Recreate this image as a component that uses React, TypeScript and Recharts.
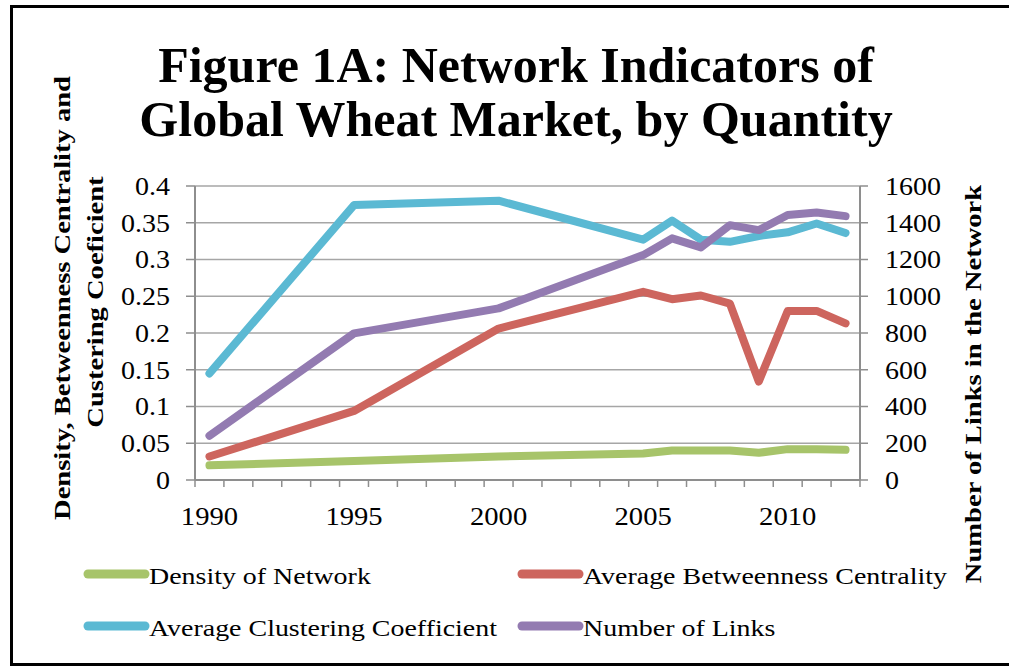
import { LineChart, Line, XAxis, YAxis, CartesianGrid } from "recharts";

// values
const years = [1990, 1995, 2000, 2005, 2006, 2007, 2008, 2009, 2010, 2011, 2012];
const density = [0.02, 0.026, 0.032, 0.036, 0.04, 0.04, 0.04, 0.037, 0.042, 0.042, 0.041];
const betweenness = [0.032, 0.094, 0.206, 0.256, 0.246, 0.251, 0.24, 0.134, 0.23, 0.23, 0.213];
const clustering = [0.145, 0.374, 0.38, 0.327, 0.353, 0.327, 0.324, 0.332, 0.337, 0.349, 0.336];
const links = [241, 798, 934, 1224, 1315, 1266, 1387, 1360, 1442, 1456, 1436];

const leftTicks = [0, 0.05, 0.1, 0.15, 0.2, 0.25, 0.3, 0.35, 0.4];
const rightTicks = [0, 200, 400, 600, 800, 1000, 1200, 1400, 1600];
const yearLabels = [1990, 1995, 2000, 2005, 2010];
const yearBounds = Array.from({ length: 24 }, (_, i) => 1989.5 + i);

const series = [
  { key: "density", name: "Density of Network", color: "#a7c46a", axis: "left" },
  { key: "betweenness", name: "Average Betweenness Centrality", color: "#cd655e", axis: "left" },
  { key: "clustering", name: "Average Clustering Coefficient", color: "#5bb9d3", axis: "left" },
  { key: "links", name: "Number of Links", color: "#937bb1", axis: "right" },
];

const data = years.map((year, i) => ({
  year,
  density: density[i],
  betweenness: betweenness[i],
  clustering: clustering[i],
  links: links[i],
}));

// the original uses Cambria, which is wider than Liberation Serif -> stretch a bit
const FONT = "'Liberation Serif', 'Times New Roman', serif";
const WIDE = 1.215;
const GRID = "#a6a6a6";
const AXIS = "#8e8e8e";

const XTick = ({ x, y, payload }: any) => {
  const v = payload.value;
  if (v % 1 !== 0) {
    return <line x1={x} x2={x} y1={y} y2={y + 7} stroke={AXIS} strokeWidth={1.5} />;
  }
  return (
    <text
      transform={`translate(${x} ${y + 45}) scale(1.1 1)`}
      textAnchor="middle"
      fontSize={26}
      fontFamily={FONT}
      fill="#000"
    >
      {v}
    </text>
  );
};

const YTick = ({ x, y, payload, textAnchor }: any) => (
  <text
    transform={`translate(${x} ${y}) scale(1.12 1)`}
    dy="0.35em"
    textAnchor={textAnchor}
    fontSize={25}
    fontFamily={FONT}
    fill="#000"
  >
    {payload.value}
  </text>
);

const AxisTitle = ({ x, y, rot, children }: any) => (
  <text
    transform={`translate(${x} ${y}) rotate(${rot}) scale(1.19 1)`}
    textAnchor="middle"
    fontSize={24}
    fontWeight="bold"
    fontFamily={FONT}
    fill="#000"
  >
    {children}
  </text>
);

export default function App() {
  const legendPos = [
    { x: 88, y: 576 },
    { x: 522, y: 576 },
    { x: 88, y: 628 },
    { x: 522, y: 628 },
  ];

  return (
    <div style={{ position: "absolute", left: 0, top: 0, width: 1009, height: 667, background: "#fff", overflow: "hidden" }}>
      <LineChart
        width={1009}
        height={667}
        data={data}
        margin={{ top: 186, left: 125, right: 79, bottom: 147 }}
      >
        <CartesianGrid vertical={false} stroke={GRID} strokeWidth={1.5} yAxisId="left" />
        <XAxis
          dataKey="year"
          type="number"
          domain={[1989.5, 2012.5]}
          ticks={[...yearBounds, ...yearLabels].sort((a, b) => a - b)}
          interval={0}
          tickLine={false}
          tickSize={0}
          tickMargin={0}
          tick={<XTick />}
          axisLine={{ stroke: AXIS, strokeWidth: 2 }}
          height={40}
        />
        <YAxis
          yAxisId="left"
          domain={[0, 0.4]}
          ticks={leftTicks}
          interval={0}
          width={70}
          tickSize={9}
          tickMargin={16}
          tickLine={{ stroke: AXIS, strokeWidth: 1.5 }}
          axisLine={{ stroke: AXIS, strokeWidth: 2 }}
          tick={<YTick />}
        />
        <YAxis
          yAxisId="right"
          orientation="right"
          domain={[0, 1600]}
          ticks={rightTicks}
          interval={0}
          width={70}
          tickSize={8}
          tickMargin={17}
          tickLine={{ stroke: AXIS, strokeWidth: 1.5 }}
          axisLine={{ stroke: AXIS, strokeWidth: 2 }}
          tick={<YTick />}
        />
        {series.map((s) => (
          <Line
            key={s.key}
            yAxisId={s.axis}
            type="linear"
            dataKey={s.key}
            name={s.name}
            stroke={s.color}
            strokeWidth={8}
            strokeLinecap="round"
            strokeLinejoin="round"
            dot={false}
            activeDot={false}
            isAnimationActive={false}
          />
        ))}
      </LineChart>
      <svg
        width={1009}
        height={667}
        style={{ position: "absolute", left: 0, top: 0, pointerEvents: "none" }}
      >
        <rect x={11.5} y={6.5} width={1010} height={658} fill="none" stroke="#000" strokeWidth={3} />
        <text x={516} y={82} textAnchor="middle" fontSize={50} fontWeight="bold" fontFamily={FONT} fill="#000">
          Figure 1A: Network Indicators of
        </text>
        <text x={516} y={136} textAnchor="middle" fontSize={50} fontWeight="bold" fontFamily={FONT} fill="#000">
          Global Wheat Market, by Quantity
        </text>
        <AxisTitle x={70} y={298} rot={-90}>Density, Betweenness Centrality and</AxisTitle>
        <AxisTitle x={103} y={302} rot={-90}>Custering Coeficient</AxisTitle>
        <AxisTitle x={981} y={384} rot={-90}>Number of Links in the Network</AxisTitle>
        {series.map((s, i) => (
          <g key={s.key}>
            <line
              x1={legendPos[i].x}
              x2={legendPos[i].x + 57}
              y1={legendPos[i].y - 2}
              y2={legendPos[i].y - 2}
              stroke={s.color}
              strokeWidth={9}
              strokeLinecap="round"
            />
            <text
              transform={`translate(${legendPos[i].x + 61} ${legendPos[i].y + 8}) scale(${WIDE} 1)`}
              fontSize={23}
              fontFamily={FONT}
              fill="#000"
            >
              {s.name}
            </text>
          </g>
        ))}
      </svg>
    </div>
  );
}
